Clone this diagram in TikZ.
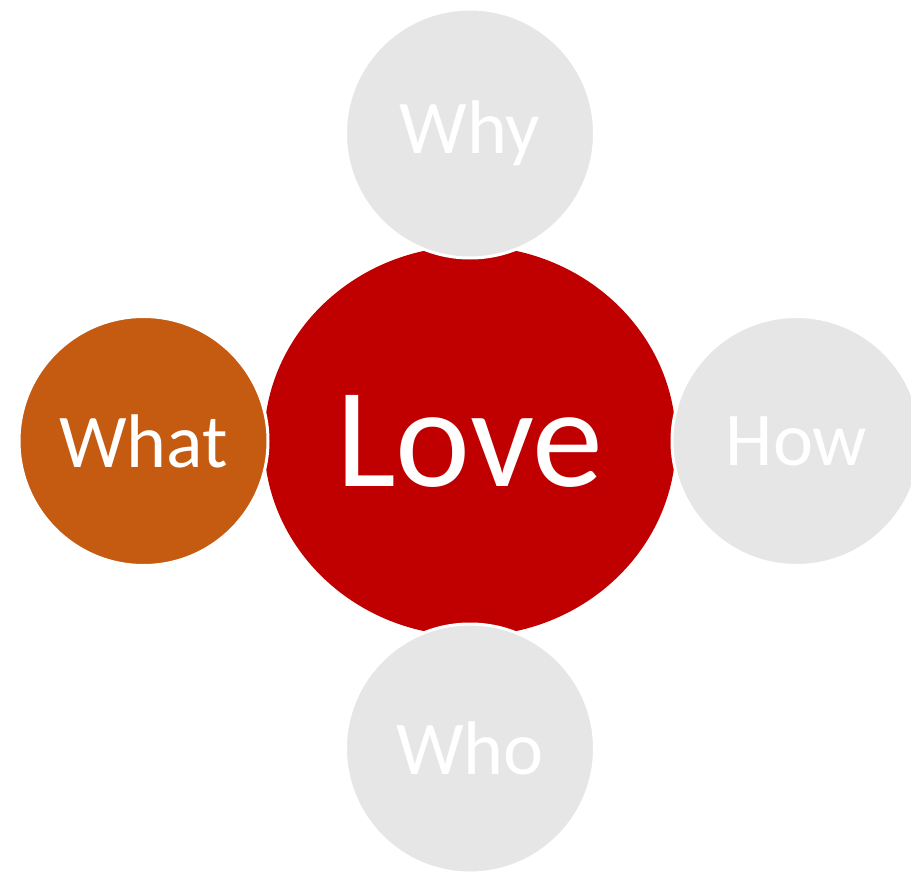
\documentclass[tikz,border=0pt]{standalone}
\usepackage{fontspec}
\setmainfont{Carlito}
\usepackage{tikz}
\usetikzlibrary{shapes.geometric}
\usetikzlibrary{positioning}

\definecolor{loveRed}{HTML}{C00000}
\definecolor{whatOrange}{HTML}{C55A11}
\definecolor{askGrey}{HTML}{E7E6E6}

\begin{document}
\begin{tikzpicture}[x = 1pt, y = -1pt,
                    centerEllipse/.style = {ellipse, fill = loveRed, text = white, inner sep = 0pt, outer sep = 0pt,
                                            minimum width = 412pt, minimum height = 390pt,
                                            font = \fontsize{142}{142}\selectfont},
                    askCircle/.style     = {circle, draw = white, line width = 3pt, text = white, inner sep = 0pt, outer sep = 0pt,
                                            minimum size = 249pt, font = \fontsize{76}{76}\selectfont}]
    \useasboundingbox (0, 0) rectangle (911, 875);

    \node [centerEllipse] (love) at (470, 441) {Love};

    \node [askCircle, fill = askGrey,    above = -12pt of love] (why)  {Why};
    \node [askCircle, fill = whatOrange, left  = -4pt  of love] (what) {What};
    \node [askCircle, fill = askGrey,    right = -4pt  of love] (how)  {How};
    \node [askCircle, fill = askGrey,    below = -12pt of love] (who)  {Who};
\end{tikzpicture}
\end{document}
